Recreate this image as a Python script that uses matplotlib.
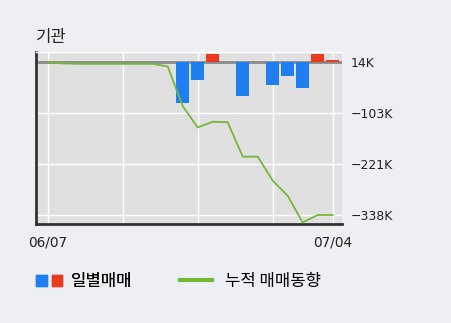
import matplotlib
matplotlib.use('Agg')
import matplotlib.pyplot as plt
import numpy as np
from matplotlib.patches import Patch
from matplotlib.lines import Line2D
from matplotlib.legend_handler import HandlerTuple

plt.rcParams['font.family'] = ['Noto Sans CJK KR', 'DejaVu Sans']

# data (values in thousands of shares)
dates = ['06/07', '06/10', '06/11', '06/12', '06/13', '06/14', '06/17', '06/18',
         '06/19', '06/20', '06/21', '06/24', '06/25', '06/26', '06/27', '06/28',
         '07/01', '07/02', '07/03', '07/04']
daily = [0, 0, 0, 0, 0, 0, 0, 0, 0, -96, -41, 17, 0, -78, 0, -53, -34, -60, 17, 3]
cumulative = [14, 10, 9, 9, 9, 9, 9, 9, 3, -88, -137, -124, -125, -204, -204,
              -259, -294, -355, -338, -338]
tick_vals = [14, -103, -221, -338]
base = 14

bg = '#eeeff3'
plot_bg = '#e0e0e0'
blue = '#1f7ff0'
red = '#ea3a1f'
green = '#74b83a'

fig = plt.figure(figsize=(4.51, 3.23), dpi=100, facecolor=bg)
ax = fig.add_axes([0.0798, 0.3065, 0.6785, 0.531])
ax.set_facecolor(plot_bg)

x = np.arange(len(dates))
colors = [red if v > 0 else blue for v in daily]
ax.bar(x, daily, bottom=base, width=0.87, color=colors, zorder=3)
ax.axhline(base, color='#8a8a8a', lw=2, zorder=2)
ax.plot(x, cumulative, color=green, lw=1.3, zorder=4)

ax.set_xlim(-0.78, 19.62)
ax.set_ylim(-358.7, 35.1)

# grid
for v in tick_vals[1:]:
    ax.axhline(v, color='white', lw=1, zorder=1)
for i in [0, 5, 10, 15, 19]:
    ax.axvline(i, color='white', lw=1, zorder=1)

ax.yaxis.tick_right()
ax.set_yticks(tick_vals)
ax.set_yticklabels([f'{v}K'.replace('-', '\u2212') for v in tick_vals],
                   fontsize=9, color='#222222', family='DejaVu Sans')
ax.set_xticks([0, len(dates) - 1])
ax.set_xticklabels([dates[0], dates[-1]], fontsize=9.8, color='#222222',
                   family='DejaVu Sans')
ax.tick_params(axis='y', length=0, pad=6)
ax.tick_params(axis='x', length=0, pad=8)

for s in ['left', 'bottom']:
    ax.spines[s].set_color('#333333')
    ax.spines[s].set_linewidth(2)
ax.spines['right'].set_visible(False)
ax.spines['top'].set_color('white')
ax.spines['top'].set_linewidth(1)

fig.text(0.080, 0.885, '기관', fontsize=12, color='#222222', va='center')

# legends
leg1 = fig.legend(handles=[(Patch(color=blue), Patch(color=red))], labels=['일별매매'],
                  handler_map={tuple: HandlerTuple(ndivide=None, pad=0.3)},
                  loc='center left', bbox_to_anchor=(0.047, 0.128), frameon=False,
                  fontsize=12, handlelength=1.56, handleheight=0.62, handletextpad=0.5)
fig.add_artist(leg1)
fig.legend(handles=[Line2D([], [], color=green, lw=3)], labels=['누적 매매동향'],
           loc='center left', bbox_to_anchor=(0.366, 0.128), frameon=False,
           fontsize=12, handlelength=1.92, handletextpad=0.8)

fig.savefig('out.png', dpi=100, facecolor=bg)
